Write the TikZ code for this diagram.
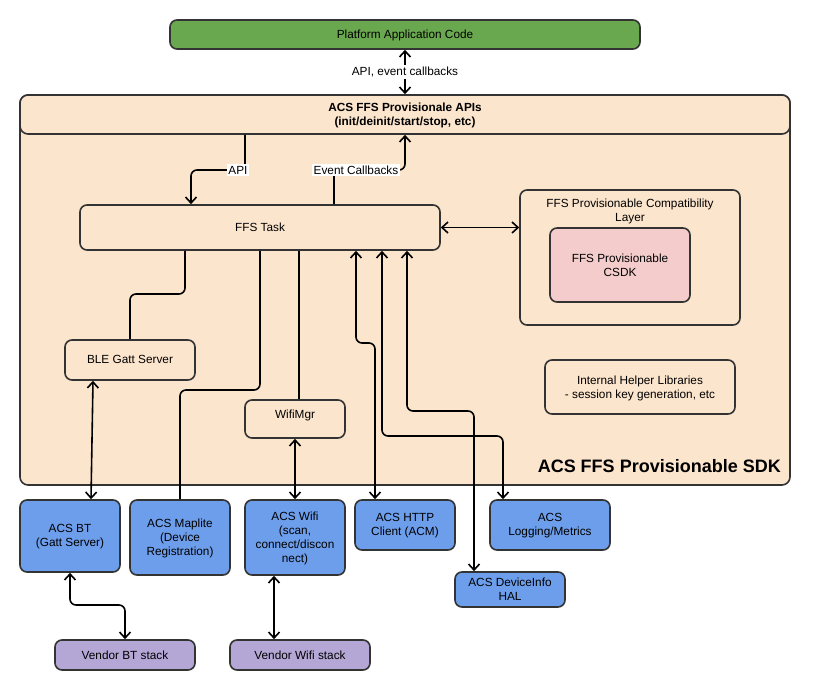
\documentclass[tikz,border=0pt]{standalone}
\usepackage{fontspec}
\setmainfont{Liberation Sans}
\usetikzlibrary{arrows.meta}
\definecolor{pgreen}{HTML}{6AA84F}
\definecolor{peach}{HTML}{FCE5CD}
\definecolor{pinkc}{HTML}{F4CCCC}
\definecolor{bluec}{HTML}{6D9EEB}
\definecolor{purplec}{HTML}{B4A7D6}
\definecolor{edgec}{HTML}{333333}
\begin{document}
\begin{tikzpicture}[x=1pt,y=-1pt,
  box/.style={draw=edgec, line width=1.6pt, rounded corners=7pt, align=center, inner sep=2pt,
    font=\fontsize{11.8}{14}\selectfont, text depth=0.5pt},
  conn/.style={line width=1.6pt, black, rounded corners=6pt},
  lbl/.style={fill=white, inner sep=1.5pt, font=\fontsize{11.8}{14}\selectfont},
  >={Straight Barb[length=6pt,width=11pt]}]
\useasboundingbox (0,0) rectangle (816,690);

% outer SDK box
\node[box, fill=peach, minimum width=770pt, minimum height=390pt, rounded corners=8pt] (sdk) at (405,290) {};
\node[box, fill=peach, minimum width=770pt, minimum height=39pt, rounded corners=8pt, font=\bfseries\fontsize{11.8}{14}\selectfont] (apis) at (405,114.5) {ACS FFS Provisionale APIs\\(init/deinit/start/stop, etc)};
\node[anchor=east, font=\bfseries\fontsize{18}{20}\selectfont, inner sep=0pt] (sdktitle) at (781,466) {ACS FFS Provisionable SDK};

% top
\node[box, fill=pgreen, minimum width=470pt, minimum height=29pt] (plat) at (405,34.5) {Platform Application Code};

% inner boxes
\node[box, fill=peach, minimum width=360pt, minimum height=45pt] (ffs) at (260,227.5) {FFS Task};
\node[box, fill=peach, minimum width=220pt, minimum height=135pt] (compat) at (630,257.5) {};
\node[align=center, font=\fontsize{11.8}{14}\selectfont, inner sep=0pt] (compatlbl) at (630,211) {FFS Provisionable Compatibility\\Layer};
\node[box, fill=pinkc, minimum width=140pt, minimum height=74pt] (csdk) at (620,265) {FFS Provisionable\\CSDK};
\node[box, fill=peach, minimum width=190pt, minimum height=54pt] (helper) at (640,387) {Internal Helper Libraries\\- session key generation, etc};
\node[box, fill=peach, minimum width=130pt, minimum height=40pt] (ble) at (130,360) {BLE Gatt Server};
\node[box, fill=peach, minimum width=100pt, minimum height=38pt] (wmgr) at (295,419) {};
\node[font=\fontsize{11.8}{14}\selectfont, inner sep=0pt] (wmgrlbl) at (295,415) {WifiMgr};

% bottom boxes
\node[box, fill=bluec, minimum width=100pt, minimum height=72pt] (bt) at (70,536) {ACS BT\\(Gatt Server)};
\node[box, fill=bluec, minimum width=100pt, minimum height=75pt] (maplite) at (180,537.5) {ACS Maplite\\(Device\\Registration)};
\node[box, fill=bluec, minimum width=100pt, minimum height=75pt] (wifi) at (295,537.5) {ACS Wifi\\(scan,\\connect/discon\\nect)};
\node[box, fill=bluec, minimum width=100pt, minimum height=50pt] (http) at (405,525) {ACS HTTP\\Client (ACM)};
\node[box, fill=bluec, minimum width=120pt, minimum height=50pt] (logm) at (550,525) {ACS\\Logging/Metrics};
\node[box, fill=bluec, minimum width=110pt, minimum height=35pt] (devinfo) at (510,589.5) {ACS DeviceInfo\\HAL};
\node[box, fill=purplec, minimum width=140pt, minimum height=30pt] (vbt) at (125,655) {Vendor BT stack};
\node[box, fill=purplec, minimum width=140pt, minimum height=30pt] (vwifi) at (300,655) {Vendor Wifi stack};

% connectors
\draw[conn, <->] (plat.south -| 405,0) -- (apis.north -| 405,0);
\node[lbl] (apilbl0) at (405,72) {API, event callbacks};

\draw[conn, ->] (apis.south -| 245,0) |- (191,170) -- (ffs.north -| 191,0);
\node[lbl] (apilbl) at (238,170) {API};
\draw[conn, ->] (ffs.north -| 334,0) |- (405,170) -- (apis.south -| 405,0);
\node[lbl] (evlbl) at (356,170) {Event Callbacks};

\draw[conn, <->] (ffs.east) -- (compat.west |- ffs.east);

\draw[conn] (ffs.south -| 185,0) |- (130,294) -- (ble.north -| 130,0);
\draw[conn] (ffs.south -| 260,0) |- (180,390) -- (maplite.north -| 180,0);
\draw[conn] (ffs.south -| 299,0) -- (wmgr.north -| 299,0);
\draw[conn, <->] (ffs.south -| 356,0) |- (375,343) -- (http.north -| 375,0);
\draw[conn, <->] (ffs.south -| 382,0) |- (503,436) -- (logm.north -| 503,0);
\draw[conn, <->] (ffs.south -| 407,0) |- (474,411) -- (devinfo.north -| 474,0);

\draw[conn, <->] (ble.south -| 93,0) -- (bt.north -| 91,0);
\draw[conn, <->] (wmgr.south -| 295,0) -- (wifi.north -| 295,0);
\draw[conn, <->] (bt.south -| 70,0) |- (125,605) -- (vbt.north -| 125,0);
\draw[conn, <->] (wifi.south -| 274,0) -- (vwifi.north -| 274,0);
\end{tikzpicture}
\end{document}
